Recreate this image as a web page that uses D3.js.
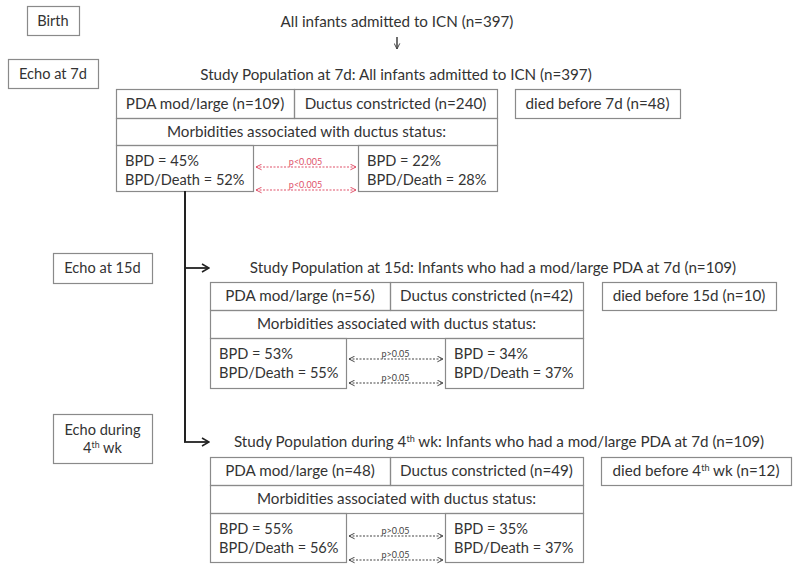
<!DOCTYPE html>
<html>
<head>
<meta charset="utf-8">
<script src="https://cdn.jsdelivr.net/npm/d3@7/dist/d3.min.js"></script>
<style>
  html, body { margin: 0; padding: 0; background: #fff; }
  text { font-family: Lato, "Open Sans", sans-serif; fill: #333; }
</style>
</head>
<body>
<div id="chart"></div>
<script>
// ---------- data ----------
const topTitle = "All infants admitted to ICN (n=397)";
const stageLabels = [["Birth"], ["Echo at 7d"], ["Echo at 15d"], ["Echo during", "4^th wk"]];
const titles = [
  "Study Population at 7d: All infants admitted to ICN (n=397)",
  "Study Population at 15d: Infants who had a mod/large PDA at 7d (n=109)",
  "Study Population during 4^th wk: Infants who had a mod/large PDA at 7d (n=109)"
];
const pdaN = [109, 56, 48];
const constrictedN = [240, 42, 49];
const diedBefore = ["7d", "15d", "4^th wk"];
const diedN = [48, 10, 12];
const bpdPDA = [45, 53, 55];
const bpdDeathPDA = [52, 55, 56];
const bpdConstricted = [22, 34, 35];
const bpdDeathConstricted = [28, 37, 37];
const pBPD = ["p<0.005", "p>0.05", "p>0.05"];
const pBPDDeath = ["p<0.005", "p>0.05", "p>0.05"];
const significant = [true, false, false];

// ---------- layout ----------
const W = 800, H = 570;
const svg = d3.select("#chart").append("svg").attr("width", W).attr("height", H);
const defs = svg.append("defs");
function marker(id, color, orient) {
  defs.append("marker").attr("id", id).attr("viewBox", "0 0 10 10")
    .attr("refX", 9).attr("refY", 5).attr("markerWidth", 7).attr("markerHeight", 7)
    .attr("markerUnits", "userSpaceOnUse").attr("orient", orient)
    .append("path").attr("d", "M1,1 L9,5 L1,9").attr("fill", "none")
    .attr("stroke", color).attr("stroke-width", 1.4);
}
marker("redEnd", "#e0526a", "auto");
marker("redStart", "#e0526a", "auto-start-reverse");
marker("grayEnd", "#444", "auto");
marker("grayStart", "#444", "auto-start-reverse");
defs.append("marker").attr("id", "bigArrow").attr("viewBox", "0 0 10 10")
  .attr("refX", 9).attr("refY", 5).attr("markerWidth", 10).attr("markerHeight", 10)
  .attr("markerUnits", "userSpaceOnUse").attr("orient", "auto")
  .append("path").attr("d", "M2,1 L9,5 L2,9").attr("fill", "none")
  .attr("stroke", "#222").attr("stroke-width", 1.6);

const BOX = "#8a8a8a";
const FS = 15.2;
const FS_BPD = 14.6;

// text with optional "^sup" segment
function richText(sel, str, x, y, anchor, size) {
  const t = sel.append("text").attr("x", x).attr("y", y)
    .attr("text-anchor", anchor).attr("font-size", size || FS);
  const parts = str.split(/(\^\w+)/);
  parts.forEach(p => {
    if (!p) return;
    if (p[0] === "^") {
      t.append("tspan").attr("baseline-shift", "super").attr("font-size", (size || FS) * 0.6).text(p.slice(1));
    } else {
      t.append("tspan").text(p);
    }
  });
  return t;
}
function box(x0, y0, x1, y1) {
  svg.append("rect").attr("x", x0 + 0.5).attr("y", y0 + 0.5)
    .attr("width", x1 - x0).attr("height", y1 - y0)
    .attr("fill", "none").attr("stroke", BOX).attr("stroke-width", 1.2);
}

// stage-label boxes on the left
const labelBoxes = [[27, 6, 79, 35], [8, 59, 98, 88], [53, 253, 152, 283], [53, 414, 152, 463]];
stageLabels.forEach((lines, i) => {
  const [x0, y0, x1, y1] = labelBoxes[i];
  box(x0, y0, x1, y1);
  const cx = (x0 + x1) / 2, cy = (y0 + y1) / 2;
  const lh = 18;
  lines.forEach((ln, j) => {
    richText(svg, ln, cx, cy + 5 + (j - (lines.length - 1) / 2) * lh, "middle", 14.6);
  });
});

// top title + small down arrow
richText(svg, topTitle, 397, 27, "middle");
svg.append("line").attr("x1", 397).attr("y1", 37).attr("x2", 397).attr("y2", 49)
  .attr("stroke", "#222").attr("stroke-width", 1.3).attr("marker-end", "url(#grayEnd)");

// stage geometry
const stages = [
  { titleX: 396, titleY: 80, top: 89, r1: 118, r2: 145, bot: 191, xl: 116, xs: 294, xr: 497, bl: 253, br: 358, dx0: 515, dx1: 680, a1: 167, a2: 190 },
  { titleX: 493, titleY: 273, top: 282, r1: 310, r2: 338, bot: 388, xl: 210, xs: 390, xr: 583, bl: 346, br: 445, dx0: 602, dx1: 776, a1: 359, a2: 383 },
  { titleX: 499, titleY: 447, top: 457, r1: 485, r2: 513, bot: 562, xl: 210, xs: 390, xr: 583, bl: 346, br: 445, dx0: 601, dx1: 791, a1: 536, a2: 560 }
];

stages.forEach((s, i) => {
  richText(svg, titles[i], s.titleX, s.titleY, "middle");
  // row 1
  box(s.xl, s.top, s.xs, s.r1);
  box(s.xs, s.top, s.xr, s.r1);
  richText(svg, `PDA mod/large (n=${pdaN[i]})`, (s.xl + s.xs) / 2, (s.top + s.r1) / 2 + 5, "middle");
  richText(svg, `Ductus constricted (n=${constrictedN[i]})`, (s.xs + s.xr) / 2, (s.top + s.r1) / 2 + 5, "middle");
  box(s.dx0, s.top, s.dx1, s.r1);
  richText(svg, `died before ${diedBefore[i]} (n=${diedN[i]})`, (s.dx0 + s.dx1) / 2, (s.top + s.r1) / 2 + 5, "middle");
  // row 2
  box(s.xl, s.r1, s.xr, s.r2);
  richText(svg, "Morbidities associated with ductus status:", (s.xl + s.xr) / 2, (s.r1 + s.r2) / 2 + 5, "middle");
  // row 3
  box(s.xl, s.r2, s.bl, s.bot);
  box(s.br, s.r2, s.xr, s.bot);
  const b1 = s.r2 + 21, b2 = s.r2 + 40;
  richText(svg, `BPD = ${bpdPDA[i]}%`, s.xl + 9, b1, "start", FS_BPD);
  richText(svg, `BPD/Death = ${bpdDeathPDA[i]}%`, s.xl + 9, b2, "start", FS_BPD);
  richText(svg, `BPD = ${bpdConstricted[i]}%`, s.br + 9, b1, "start", FS_BPD);
  richText(svg, `BPD/Death = ${bpdDeathConstricted[i]}%`, s.br + 9, b2, "start", FS_BPD);
  // comparison arrows
  const col = significant[i] ? "#e0526a" : "#444";
  const mk = significant[i] ? "red" : "gray";
  [[s.a1, pBPD[i]], [s.a2, pBPDDeath[i]]].forEach(([y, lab]) => {
    svg.append("line").attr("x1", s.bl + 3).attr("x2", s.br - 2).attr("y1", y).attr("y2", y)
      .attr("stroke", col).attr("stroke-width", 1.1).attr("stroke-dasharray", "2,1.5")
      .attr("marker-start", `url(#${mk}Start)`).attr("marker-end", `url(#${mk}End)`);
    svg.append("text").attr("x", (s.bl + s.br) / 2).attr("y", y - 2)
      .attr("text-anchor", "middle").attr("font-size", 9)
      .style("fill", col).text(lab);
  });
});

// connector from stage-1 PDA box down to later stages
const vx = 185;
svg.append("line").attr("x1", vx).attr("x2", vx).attr("y1", stages[0].bot).attr("y2", 442)
  .attr("stroke", "#222").attr("stroke-width", 2);
[268, 442].forEach(y => {
  svg.append("line").attr("x1", vx - 1).attr("x2", 209).attr("y1", y).attr("y2", y)
    .attr("stroke", "#222").attr("stroke-width", 1.8).attr("marker-end", "url(#bigArrow)");
});
</script>
</body>
</html>
